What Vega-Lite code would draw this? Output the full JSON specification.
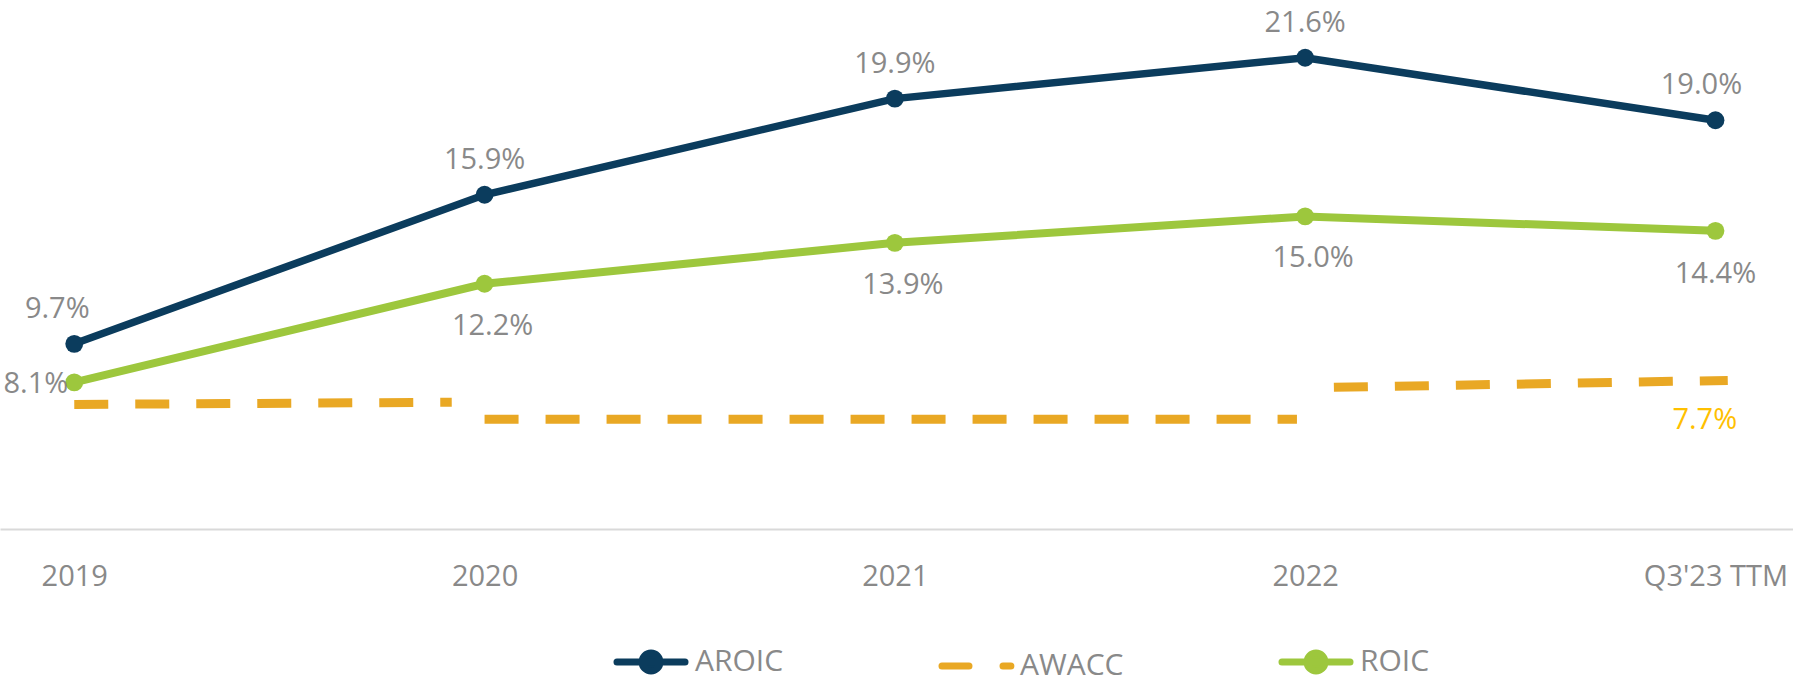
{
  "$schema": "https://vega.github.io/schema/vega-lite/v6.json",
  "width": 1793,
  "height": 529,
  "autosize": {"type": "none"},
  "padding": {"top": 0, "left": 0, "right": 0, "bottom": 152},
  "background": "white",
  "config": {"view": {"stroke": null}, "font": "Open Sans"},
  "data": {"values": [
    {"series": "AROIC", "idx": 0, "seg": "a", "value": 9.7, "label": "9.7%"},
    {"series": "AROIC", "idx": 1, "seg": "a", "value": 15.9, "label": "15.9%"},
    {"series": "AROIC", "idx": 2, "seg": "a", "value": 19.9, "label": "19.9%"},
    {"series": "AROIC", "idx": 3, "seg": "a", "value": 21.6, "label": "21.6%"},
    {"series": "AROIC", "idx": 4, "seg": "a", "value": 19.0, "label": "19.0%"},
    {"series": "ROIC", "idx": 0, "seg": "r", "value": 8.1, "label": "8.1%"},
    {"series": "ROIC", "idx": 1, "seg": "r", "value": 12.2, "label": "12.2%"},
    {"series": "ROIC", "idx": 2, "seg": "r", "value": 13.9, "label": "13.9%"},
    {"series": "ROIC", "idx": 3, "seg": "r", "value": 15.0, "label": "15.0%"},
    {"series": "ROIC", "idx": 4, "seg": "r", "value": 14.4, "label": "14.4%"},
    {"series": "AWACC", "idx": 0, "seg": "w1", "value": 7.18},
    {"series": "AWACC", "idx": 0.92, "seg": "w1", "value": 7.27},
    {"series": "AWACC", "idx": 1.0, "seg": "w2", "value": 6.56},
    {"series": "AWACC", "idx": 2.98, "seg": "w2", "value": 6.56},
    {"series": "AWACC", "idx": 3.07, "seg": "w3", "value": 7.89},
    {"series": "AWACC", "idx": 4.03, "seg": "w3", "value": 8.18, "label": "7.7%"}
  ]},
  "encoding": {
    "x": {
      "field": "idx", "type": "quantitative",
      "scale": {"domain": [-0.181, 4.189], "nice": false, "zero": false},
      "axis": {
        "values": [0, 1, 2, 3, 4],
        "labelExpr": "['2019','2020','2021','2022','Q3\\'23 TTM'][datum.value]",
        "title": null, "grid": false, "ticks": false,
        "domainColor": "#D9D9D9", "domainWidth": 2,
        "labelFontSize": 29, "labelColor": "#898989", "labelFont": "Open Sans",
        "labelPadding": 33, "labelOverlap": false, "labelFlush": false, "labelBound": false
      }
    },
    "y": {
      "field": "value", "type": "quantitative",
      "scale": {"domain": [2, 24], "nice": false, "zero": false},
      "axis": null
    }
  },
  "layer": [
    {
      "transform": [{"filter": "datum.series === 'AWACC'"}],
      "mark": {"type": "line", "strokeWidth": 9, "strokeDash": [34, 27], "strokeCap": "butt"},
      "encoding": {
        "detail": {"field": "seg"},
        "color": {"field": "series", "type": "nominal",
          "scale": {"domain": ["AROIC", "AWACC", "ROIC"], "range": ["#0B3C5D", "#E9A824", "#9DC73D"]},
          "legend": {
            "orient": "none", "legendX": 610, "legendY": 621, "direction": "horizontal",
            "title": null, "symbolSize": 5625, "symbolStrokeWidth": 7,
            "labelFontSize": 30, "labelColor": "#898989", "labelFont": "Open Sans",
            "labelOffset": 3, "columnPadding": 143,
            "encode": {"symbols": {"update": {
              "shape": {"signal": "datum.value === 'AWACC' ? 'M-0.907,0L-0.187,0M0.72,0L0.93,0' : 'M-0.907,0L0.907,0M0.24,0A0.24,0.24,0,1,1,-0.24,0A0.24,0.24,0,1,1,0.24,0Z'"},
              "size": {"value": 5625},
              "fill": {"scale": "color", "field": "value"},
              "stroke": {"scale": "color", "field": "value"},
              "strokeWidth": {"value": 7},
              "strokeCap": {"value": "round"},
              "opacity": {"value": 1}
            }}}
          }
        }
      }
    },
    {
      "transform": [{"filter": "datum.series === 'ROIC'"}],
      "mark": {"type": "line", "strokeWidth": 8},
      "encoding": {"color": {"field": "series", "type": "nominal"}}
    },
    {
      "transform": [{"filter": "datum.series === 'ROIC'"}],
      "mark": {"type": "point", "shape": "circle", "filled": true, "size": 320, "opacity": 1},
      "encoding": {"color": {"field": "series", "type": "nominal"}}
    },
    {
      "transform": [{"filter": "datum.series === 'AROIC'"}],
      "mark": {"type": "line", "strokeWidth": 7.5},
      "encoding": {"color": {"field": "series", "type": "nominal"}}
    },
    {
      "transform": [{"filter": "datum.series === 'AROIC'"}],
      "mark": {"type": "point", "shape": "circle", "filled": true, "size": 320, "opacity": 1},
      "encoding": {"color": {"field": "series", "type": "nominal"}}
    },
    {
      "transform": [{"filter": "datum.series === 'AROIC' && datum.idx > 0 && datum.idx < 4"}],
      "mark": {"type": "text", "fontSize": 29, "color": "#898989", "font": "Open Sans", "baseline": "middle", "dy": -35},
      "encoding": {"text": {"field": "label"}}
    },
    {
      "transform": [{"filter": "datum.series === 'AROIC' && datum.idx === 0"}],
      "mark": {"type": "text", "fontSize": 29, "color": "#898989", "font": "Open Sans", "baseline": "middle", "dy": -35, "dx": -17},
      "encoding": {"text": {"field": "label"}}
    },
    {
      "transform": [{"filter": "datum.series === 'AROIC' && datum.idx === 4"}],
      "mark": {"type": "text", "fontSize": 29, "color": "#898989", "font": "Open Sans", "baseline": "middle", "dy": -35, "dx": -14},
      "encoding": {"text": {"field": "label"}}
    },
    {
      "transform": [{"filter": "datum.series === 'ROIC' && datum.idx > 0 && datum.idx < 4"}],
      "mark": {"type": "text", "fontSize": 29, "color": "#898989", "font": "Open Sans", "baseline": "middle", "dy": 42, "dx": 8},
      "encoding": {"text": {"field": "label"}}
    },
    {
      "transform": [{"filter": "datum.series === 'ROIC' && datum.idx === 4"}],
      "mark": {"type": "text", "fontSize": 29, "color": "#898989", "font": "Open Sans", "baseline": "middle", "dy": 43, "dx": 0},
      "encoding": {"text": {"field": "label"}}
    },
    {
      "transform": [{"filter": "datum.series === 'ROIC' && datum.idx === 0"}],
      "mark": {"type": "text", "fontSize": 29, "color": "#898989", "font": "Open Sans", "baseline": "middle", "align": "right", "dy": 2, "dx": -6},
      "encoding": {"text": {"field": "label"}}
    },
    {
      "transform": [{"filter": "datum.series === 'AWACC' && datum.label"}],
      "mark": {"type": "text", "fontSize": 29, "color": "#FFC000", "font": "Open Sans", "baseline": "middle", "dy": 40, "dx": -23},
      "encoding": {"text": {"field": "label"}}
    }
  ]
}
